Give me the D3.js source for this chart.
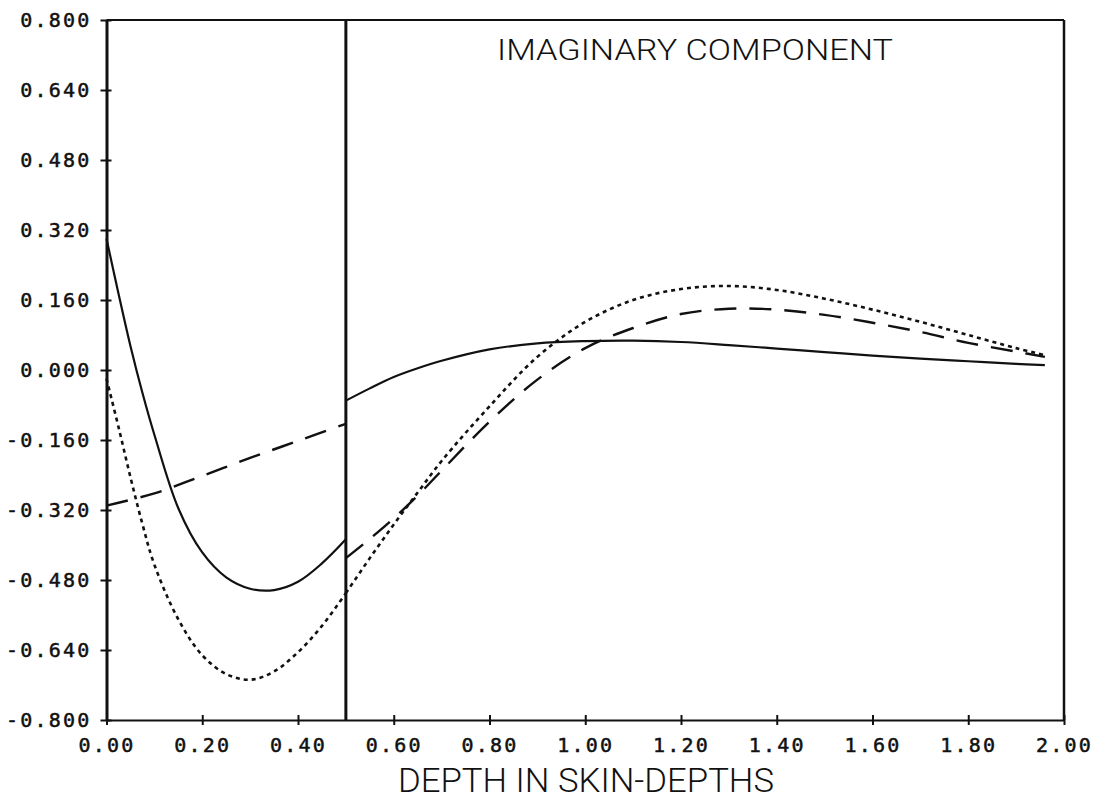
<!DOCTYPE html>
<html>
<head>
<meta charset="utf-8">
<script src="https://cdn.jsdelivr.net/npm/d3@7"></script>
<style>
  html, body { margin: 0; padding: 0; background: #fff; }
  svg { display: block; }
  .tick-label { font-family: "DejaVu Sans Mono", monospace; font-size: 20px; fill: #111; stroke: #111; stroke-width: 0.5px; letter-spacing: 2.2px; }
  .title { font-family: "Roboto", "DejaVu Sans", sans-serif; font-weight: 300; fill: #111; }
</style>
</head>
<body>
<svg id="chart" width="1112" height="805"></svg>
<script>
// Depth grid (skin-depths) for each side of the interface at 0.5
const depthLeft  = [0, 0.025, 0.05, 0.075, 0.1, 0.15, 0.2, 0.25, 0.3, 0.35, 0.4, 0.45, 0.5];
const depthRight = [0.5, 0.55, 0.6, 0.65, 0.7, 0.8, 0.9, 1.0, 1.1, 1.2, 1.3, 1.4, 1.5, 1.6, 1.7, 1.8, 1.9, 1.96];

// Solid curve
const solidLeft  = [0.30, 0.175, 0.055, -0.052, -0.148, -0.316, -0.417, -0.474, -0.500, -0.503, -0.484, -0.442, -0.387];
const solidRight = [-0.07, -0.042, -0.016, 0.004, 0.021, 0.047, 0.061, 0.066, 0.067, 0.064, 0.057, 0.049, 0.041, 0.033, 0.026, 0.020, 0.014, 0.011];

// Long-dashed curve
const dashDepthLeft = [0, 0.1, 0.2, 0.3, 0.4, 0.5];
const dashedLeft  = [-0.31, -0.282, -0.242, -0.201, -0.162, -0.123];
const dashedRight = [-0.43, -0.386, -0.339, -0.287, -0.230, -0.118, -0.022, 0.05, 0.096, 0.128, 0.140, 0.138, 0.126, 0.108, 0.087, 0.062, 0.042, 0.030];

// Dotted curve
const dottedLeft  = [-0.02, -0.13, -0.245, -0.352, -0.445, -0.57, -0.652, -0.695, -0.708, -0.689, -0.645, -0.585, -0.51];
const dottedRight = [-0.51, -0.43, -0.353, -0.28, -0.208, -0.083, 0.03, 0.11, 0.16, 0.185, 0.192, 0.183, 0.163, 0.138, 0.11, 0.08, 0.05, 0.034];

// Axis ticks
const xTicks = [0, 0.2, 0.4, 0.6, 0.8, 1.0, 1.2, 1.4, 1.6, 1.8, 2.0];
const xTickLabels = ["0.00", "0.20", "0.40", "0.60", "0.80", "1.00", "1.20", "1.40", "1.60", "1.80", "2.00"];
const yTicks = [-0.8, -0.64, -0.48, -0.32, -0.16, 0, 0.16, 0.32, 0.48, 0.64, 0.8];
const yTickLabels = ["-0.800", "-0.640", "-0.480", "-0.320", "-0.160", "0.000", "0.160", "0.320", "0.480", "0.640", "0.800"];

const interfaceDepth = 0.5;
const titleText = "IMAGINARY COMPONENT";
const xAxisTitle = "DEPTH IN SKIN-DEPTHS";

const svg = d3.select("#chart");
const plotL = 106.5, plotR = 1064, plotT = 20, plotB = 720;

const x = d3.scaleLinear().domain([0, 2]).range([plotL, plotR]);
const y = d3.scaleLinear().domain([-0.8, 0.8]).range([plotB, plotT]);

// Frame (top and right edges)
svg.append("line").attr("x1", plotL).attr("x2", plotR).attr("y1", plotT).attr("y2", plotT)
  .attr("stroke", "#111").attr("stroke-width", 2);
svg.append("line").attr("x1", plotR).attr("x2", plotR).attr("y1", plotT).attr("y2", plotB)
  .attr("stroke", "#111").attr("stroke-width", 2.5);

// Bottom axis
const xAxis = svg.append("g").attr("transform", `translate(0,${plotB})`)
  .call(d3.axisBottom(x).tickValues(xTicks).tickFormat((d, i) => xTickLabels[i]).tickSizeOuter(0).tickSizeInner(5).tickPadding(13));
xAxis.select(".domain").attr("stroke", "#111").attr("stroke-width", 2);
xAxis.selectAll(".tick line").attr("y1", -5).attr("y2", 5).attr("stroke", "#111").attr("stroke-width", 2);
xAxis.selectAll(".tick text").attr("class", "tick-label").attr("font-size", null).attr("font-family", null);

// Left axis
const yAxis = svg.append("g").attr("transform", `translate(${plotL},0)`)
  .call(d3.axisLeft(y).tickValues(yTicks).tickFormat((d, i) => yTickLabels[i]).tickSizeOuter(0).tickSizeInner(5).tickPadding(10));
yAxis.select(".domain").attr("stroke", "#111").attr("stroke-width", 3);
yAxis.selectAll(".tick line").attr("x1", -6).attr("x2", 5).attr("stroke", "#111").attr("stroke-width", 2);
yAxis.selectAll(".tick text").attr("class", "tick-label").attr("font-size", null).attr("font-family", null);

// Interface line
svg.append("line").attr("x1", x(interfaceDepth)).attr("x2", x(interfaceDepth))
  .attr("y1", plotT).attr("y2", plotB).attr("stroke", "#111").attr("stroke-width", 3);

// Curves
const line = d3.line().x(d => x(d[0])).y(d => y(d[1])).curve(d3.curveCatmullRom.alpha(0.5));
const zip = (xs, ys) => xs.map((v, i) => [v, ys[i]]);

function drawCurve(data, dash, width) {
  svg.append("path").datum(data).attr("d", line)
    .attr("fill", "none").attr("stroke", "#111").attr("stroke-width", width)
    .attr("stroke-dasharray", dash).attr("stroke-linejoin", "round");
}

drawCurve(zip(depthLeft, solidLeft), null, 2.2);
drawCurve(zip(depthRight, solidRight), null, 2.2);
drawCurve(zip(dashDepthLeft, dashedLeft), "22,13", 2.4);
drawCurve(zip(depthRight, dashedRight), "22,13", 2.4);
drawCurve(zip(depthLeft, dottedLeft), "4,4", 2.6);
drawCurve(zip(depthRight, dottedRight), "4,4", 2.6);

// Titles
svg.append("text").attr("class", "title").attr("x", 497).attr("y", 60)
  .attr("font-size", 30).attr("textLength", 396).attr("lengthAdjust", "spacingAndGlyphs")
  .text(titleText);
svg.append("text").attr("class", "title").attr("x", 398).attr("y", 792)
  .attr("font-size", 34).attr("textLength", 376).attr("lengthAdjust", "spacingAndGlyphs")
  .text(xAxisTitle);
</script>
</body>
</html>
